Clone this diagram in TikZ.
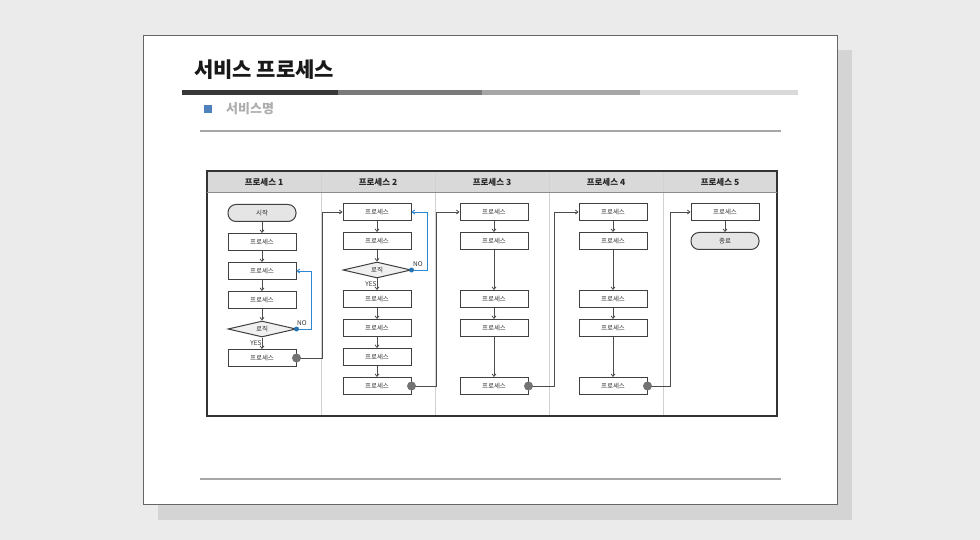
\documentclass[tikz,border=0pt]{standalone}
\usepackage{fontspec}
\setmainfont{Noto Sans CJK KR}
\usetikzlibrary{arrows.meta, shapes.geometric}

\definecolor{pagebg}{HTML}{EBEBEB}
\definecolor{shadowgray}{HTML}{D4D4D4}
\definecolor{frame}{HTML}{404040}
\definecolor{loopblue}{HTML}{2E87D1}
\definecolor{bulletblue}{HTML}{4F81BD}

\begin{document}
\begin{tikzpicture}[
        x=1pt, y=-1pt,
        >={Straight Barb[length=2.5pt, width=4pt]},
        font=\fontsize{6.5}{7}\selectfont,
        procbox/.style={draw=frame, line width=1pt, minimum width=68pt, minimum height=17pt, inner sep=0pt, text=black!80},
        termbox/.style={procbox, rounded corners=8pt, fill=black!10},
        logic/.style={draw=frame, line width=1pt, diamond, fill=black!6, aspect=4.25, minimum width=68pt, minimum height=16pt, inner sep=0pt, text=black!80},
        hdr/.style={font=\fontsize{8.5}{9}\selectfont\bfseries, text=black!85},
        flow/.style={draw=black!70, line width=0.8pt, ->},
        noflow/.style={draw=loopblue, line width=0.9pt, ->},
        lab/.style={font=\fontsize{6.5}{7}\selectfont, text=black!80, inner sep=1pt},
        enddot/.style={fill=black!55},
        nodot/.style={fill=loopblue!85!black}
    ]
        % page
        \fill[pagebg] (0,0) rectangle (980,540);
        \fill[shadowgray] (158,50) rectangle (852,520);
        \filldraw[fill=white, draw=black!60, line width=0.8pt] (143,35) rectangle (837,504);

        % title and bars
        \node[anchor=west, font=\fontsize{21}{22}\selectfont\bfseries, text=black!90, inner sep=0pt] (title) at (194,70) {서비스 프로세스};
        \fill[black!78] (182,90) rectangle (338,95);
        \fill[black!52] (338,90) rectangle (482,95);
        \fill[black!35] (482,90) rectangle (640,95);
        \fill[black!15] (640,90) rectangle (798,95);
        \fill[bulletblue] (204,105) rectangle (212,113);
        \node[anchor=west, font=\fontsize{13}{14}\selectfont\bfseries, text=black!32, inner sep=0pt] (svc) at (226,109) {서비스명};
        \draw[black!35, line width=1.2pt] (200,131) -- (781,131);
        \draw[black!35, line width=1.2pt] (200,479) -- (781,479);

        % swimlanes
        \fill[black!15] (207,171) rectangle (777,192);
        \foreach \x in {321,435,549,663}
            \draw[black!18, line width=1pt] (\x,171) -- (\x,416);
        \draw[black!80, line width=1.2pt] (207,171) rectangle (777,416);
        \draw[black!45, line width=0.6pt] (207,192) -- (777,192);
        \node[hdr] (h1) at (264,182) {프로세스 1};
        \node[hdr] (h2) at (378,182) {프로세스 2};
        \node[hdr] (h3) at (492,182) {프로세스 3};
        \node[hdr] (h4) at (606,182) {프로세스 4};
        \node[hdr] (h5) at (720,182) {프로세스 5};

        % lane 1
        \node[termbox] (start) at (262,213) {시작};
        \node[procbox] (p11) at (262,242) {프로세스};
        \node[procbox] (p12) at (262,271) {프로세스};
        \node[procbox] (p13) at (262,300) {프로세스};
        \node[logic] (d1) at (262,329) {로직};
        \node[procbox] (p14) at (262,358) {프로세스};

        % lane 2
        \node[procbox] (p21) at (377,212) {프로세스};
        \node[procbox] (p22) at (377,241) {프로세스};
        \node[logic] (d2) at (377,270) {로직};
        \node[procbox] (p23) at (377,299) {프로세스};
        \node[procbox] (p24) at (377,328) {프로세스};
        \node[procbox] (p25) at (377,357) {프로세스};
        \node[procbox] (p26) at (377,386) {프로세스};

        % lane 3
        \node[procbox] (p31) at (494,212) {프로세스};
        \node[procbox] (p32) at (494,241) {프로세스};
        \node[procbox] (p33) at (494,299) {프로세스};
        \node[procbox] (p34) at (494,328) {프로세스};
        \node[procbox] (p35) at (494,386) {프로세스};

        % lane 4
        \node[procbox] (p41) at (613,212) {프로세스};
        \node[procbox] (p42) at (613,241) {프로세스};
        \node[procbox] (p43) at (613,299) {프로세스};
        \node[procbox] (p44) at (613,328) {프로세스};
        \node[procbox] (p45) at (613,386) {프로세스};

        % lane 5
        \node[procbox] (p51) at (725,212) {프로세스};
        \node[termbox] (stop) at (725,241) {종료};

        % flow inside lanes
        \draw[flow] (start) -- (p11);
        \draw[flow] (p11) -- (p12);
        \draw[flow] (p12) -- (p13);
        \draw[flow] (p13) -- (d1);
        \draw[flow] (d1) -- node[lab, pos=0.45, left, xshift=1pt] {YES} (p14);
        \draw[flow] (p21) -- (p22);
        \draw[flow] (p22) -- (d2);
        \draw[flow] (d2) -- node[lab, pos=0.45, left, xshift=1pt] {YES} (p23);
        \draw[flow] (p23) -- (p24);
        \draw[flow] (p24) -- (p25);
        \draw[flow] (p25) -- (p26);
        \draw[flow] (p31) -- (p32);
        \draw[flow] (p32) -- (p33);
        \draw[flow] (p33) -- (p34);
        \draw[flow] (p34) -- (p35);
        \draw[flow] (p41) -- (p42);
        \draw[flow] (p42) -- (p43);
        \draw[flow] (p43) -- (p44);
        \draw[flow] (p44) -- (p45);
        \draw[flow] (p51) -- (stop);

        % NO loops
        \draw[noflow] (d1.east) -- ++(15,0) |- (p12.east);
        \node[lab] (no1) at (302,323) {NO};
        \fill[nodot] (d1.east) circle (2.5);
        \draw[noflow] (d2.east) -- ++(16,0) |- (p21.east);
        \node[lab] (no2) at (418,264) {NO};
        \fill[nodot] (d2.east) circle (2.5);

        % between lanes
        \draw[flow] (p14.east) -- ++(26,0) |- (p21.west);
        \draw[flow] (p26.east) -- ++(25,0) |- (p31.west);
        \draw[flow] (p35.east) -- ++(26,0) |- (p41.west);
        \draw[flow] (p45.east) -- ++(23,0) |- (p51.west);
        \foreach \n in {p14,p26,p35,p45}
            \fill[enddot] (\n.east) circle (4.5);
    \end{tikzpicture}
\end{document}
